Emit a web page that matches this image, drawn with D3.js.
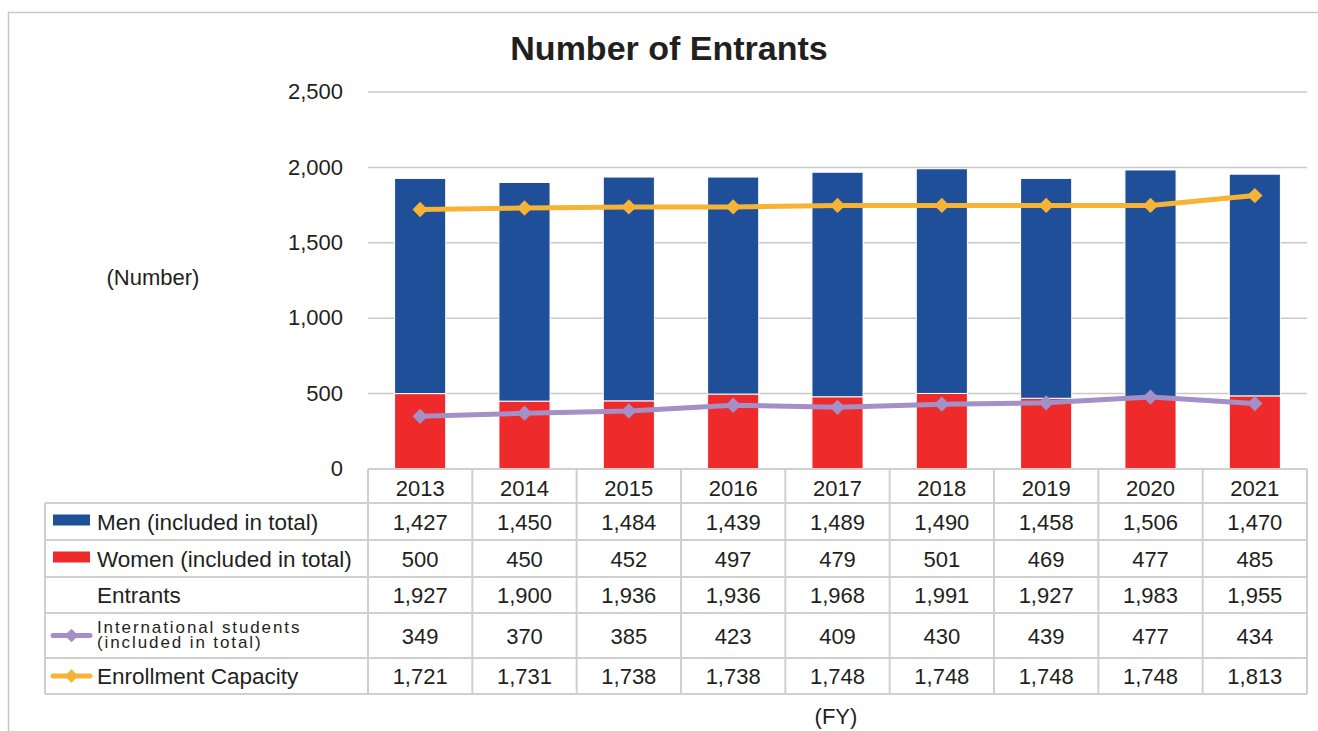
<!DOCTYPE html>
<meta charset="utf-8">
<script src="https://d3js.org/d3.v7.min.js"></script>
<style>
  body { margin: 0; background: #fff; }
  text { font-family: "Liberation Sans", Arial, sans-serif; fill: #231f20; }
</style>
<div id="chart"></div>
<script>
  // data
  var years = ["2013", "2014", "2015", "2016", "2017", "2018", "2019", "2020", "2021"];
  var men = [1427, 1450, 1484, 1439, 1489, 1490, 1458, 1506, 1470];
  var women = [500, 450, 452, 497, 479, 501, 469, 477, 485];
  var entrants = [1927, 1900, 1936, 1936, 1968, 1991, 1927, 1983, 1955];
  var intl = [349, 370, 385, 423, 409, 430, 439, 477, 434];
  var capacity = [1721, 1731, 1738, 1738, 1748, 1748, 1748, 1748, 1813];
  var yTicks = [0, 500, 1000, 1500, 2000, 2500];

  var W = 1318, H = 731;
  var plotL = 368, plotR = 1307, plotT = 92, plotB = 469;
  var blue = "#1f4f98", red = "#ee2a2b", purple = "#a48fc6", orange = "#f6b336";
  var grid = "#c9c9c9";
  var fmt = d3.format(",");

  var svg = d3.select("#chart").append("svg")
    .attr("width", W).attr("height", H);

  // outer frame
  svg.append("rect")
    .attr("x", 8.5).attr("y", 12.5)
    .attr("width", W + 20).attr("height", H + 20)
    .attr("fill", "none").attr("stroke", "#c8c8c8").attr("stroke-width", 1.5);

  var x = d3.scaleBand().domain(years).range([plotL, plotR]).paddingInner(0).paddingOuter(0);
  var y = d3.scaleLinear().domain([0, 2500]).range([plotB, plotT]);
  var barW = x.bandwidth() * 0.49;

  // title
  svg.append("text")
    .attr("x", 669).attr("y", 60)
    .attr("text-anchor", "middle")
    .style("font-size", "34px").style("font-weight", "bold")
    .text("Number of Entrants");

  // gridlines
  svg.append("g").selectAll("line")
    .data(yTicks.slice(1))
    .enter().append("line")
    .attr("x1", plotL).attr("x2", plotR)
    .attr("y1", function (d) { return y(d); })
    .attr("y2", function (d) { return y(d); })
    .attr("stroke", grid).attr("stroke-width", 1.5);

  // y axis labels
  var yAxis = svg.append("g")
    .attr("transform", "translate(" + (plotL - 25) + ",0)")
    .call(d3.axisLeft(y).tickValues(yTicks).tickFormat(fmt).tickSize(0).tickPadding(0));
  yAxis.select(".domain").remove();
  yAxis.selectAll("text")
    .style("font-size", "22px")
    .style("font-family", "'Liberation Sans', Arial, sans-serif")
    .attr("fill", "#231f20")
    .attr("dy", "0.3em");

  svg.append("text")
    .attr("x", 153).attr("y", 285)
    .attr("text-anchor", "middle")
    .style("font-size", "22px")
    .text("(Number)");

  // bars: women at bottom, men on top
  var bars = svg.append("g");
  bars.selectAll(".women")
    .data(years)
    .enter().append("rect")
    .attr("x", function (d) { return x(d) + (x.bandwidth() - barW) / 2; })
    .attr("width", barW)
    .attr("y", function (d, i) { return y(women[i]); })
    .attr("height", function (d, i) { return y(0) - y(women[i]); })
    .attr("fill", red)
    .attr("stroke", "#fff").attr("stroke-width", 1);
  bars.selectAll(".men")
    .data(years)
    .enter().append("rect")
    .attr("x", function (d) { return x(d) + (x.bandwidth() - barW) / 2; })
    .attr("width", barW)
    .attr("y", function (d, i) { return y(women[i] + men[i]); })
    .attr("height", function (d, i) { return y(women[i]) - y(women[i] + men[i]); })
    .attr("fill", blue)
    .attr("stroke", "#fff").attr("stroke-width", 1);

  // lines with diamond markers
  function drawLine(vals, color) {
    var line = d3.line()
      .x(function (d, i) { return x(years[i]) + x.bandwidth() / 2; })
      .y(function (d) { return y(d); });
    svg.append("path")
      .datum(vals)
      .attr("d", line)
      .attr("fill", "none")
      .attr("stroke", color).attr("stroke-width", 5)
      .attr("stroke-linejoin", "round");
    svg.append("g").selectAll("path")
      .data(vals)
      .enter().append("path")
      .attr("d", d3.symbol().type(d3.symbolDiamond2).size(150))
      .attr("transform", function (d, i) {
        return "translate(" + (x(years[i]) + x.bandwidth() / 2) + "," + y(d) + ")";
      })
      .attr("fill", color);
  }
  drawLine(intl, purple);
  drawLine(capacity, orange);

  // data table
  var rowEdges = [469, 503, 540, 577, 613, 658, 694];
  var rows = [
    { label: ["Men (included in total)"], vals: men, key: "rect", color: blue },
    { label: ["Women (included in total)"], vals: women, key: "rect", color: red },
    { label: ["Entrants"], vals: entrants, key: null },
    { label: ["International students", "(included in total)"], vals: intl, key: "line", color: purple },
    { label: ["Enrollment Capacity"], vals: capacity, key: "line", color: orange }
  ];
  var tableLeft = 45;
  var tbl = svg.append("g");
  var cellStroke = "#cfcfcf";

  // horizontal lines
  rowEdges.forEach(function (ry, k) {
    tbl.append("line")
      .attr("x1", k < 1 ? plotL : tableLeft).attr("x2", plotR)
      .attr("y1", ry).attr("y2", ry)
      .attr("stroke", cellStroke).attr("stroke-width", 2);
  });
  // vertical lines
  var vxs = years.map(function (d) { return x(d); }).concat([plotR]);
  vxs.forEach(function (vx) {
    tbl.append("line")
      .attr("x1", vx).attr("x2", vx)
      .attr("y1", rowEdges[0]).attr("y2", rowEdges[rowEdges.length - 1])
      .attr("stroke", cellStroke).attr("stroke-width", 2);
  });
  tbl.append("line")
    .attr("x1", tableLeft).attr("x2", tableLeft)
    .attr("y1", rowEdges[1]).attr("y2", rowEdges[rowEdges.length - 1])
    .attr("stroke", cellStroke).attr("stroke-width", 2);

  // year header
  tbl.selectAll(".yr")
    .data(years)
    .enter().append("text")
    .attr("x", function (d) { return x(d) + x.bandwidth() / 2; })
    .attr("y", (rowEdges[0] + rowEdges[1]) / 2 + 10)
    .attr("text-anchor", "middle")
    .style("font-size", "22px")
    .text(function (d) { return d; });

  rows.forEach(function (r, k) {
    var cy = (rowEdges[k + 1] + rowEdges[k + 2]) / 2;
    tbl.append("g").selectAll("text")
      .data(r.vals)
      .enter().append("text")
      .attr("x", function (d, i) { return x(years[i]) + x.bandwidth() / 2; })
      .attr("y", cy + 8)
      .attr("text-anchor", "middle")
      .style("font-size", "22px")
      .text(function (d) { return fmt(d); });

    if (r.label.length === 1) {
      tbl.append("text")
        .attr("x", 97).attr("y", cy + 8)
        .style("font-size", "22.5px")
        .text(r.label[0]);
    } else {
      tbl.append("text")
        .attr("x", 97).attr("y", cy - 3)
        .style("font-size", "17px").style("letter-spacing", "1.9px")
        .text(r.label[0]);
      tbl.append("text")
        .attr("x", 97).attr("y", cy + 12.5)
        .style("font-size", "17px").style("letter-spacing", "1.9px")
        .text(r.label[1]);
    }

    if (r.key === "rect") {
      tbl.append("rect")
        .attr("x", 53).attr("y", cy - 7)
        .attr("width", 37).attr("height", 11)
        .attr("fill", r.color);
    } else if (r.key === "line") {
      tbl.append("line")
        .attr("x1", 53).attr("x2", 90)
        .attr("y1", cy).attr("y2", cy)
        .attr("stroke", r.color).attr("stroke-width", 5)
        .attr("stroke-linecap", "round");
      tbl.append("path")
        .attr("d", d3.symbol().type(d3.symbolDiamond2).size(120))
        .attr("transform", "translate(71.5," + cy + ")")
        .attr("fill", r.color);
    }
  });

  // x label
  svg.append("text")
    .attr("x", 836).attr("y", 724)
    .attr("text-anchor", "middle")
    .style("font-size", "22px")
    .text("(FY)");
</script>
